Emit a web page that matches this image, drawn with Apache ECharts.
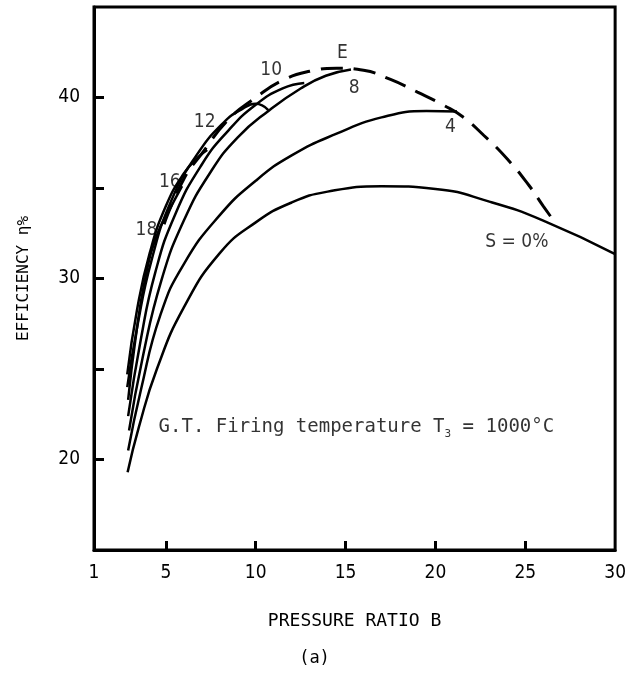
<!DOCTYPE html>
<html>
<head>
<meta charset="utf-8">
<script src="https://cdn.jsdelivr.net/npm/echarts@6/dist/echarts.min.js"></script>
<style>
html,body{margin:0;padding:0;background:#fff;}
#c{width:629px;height:681px;}
</style>
</head>
<body>
<div id="c"></div>
<script>
// ---- data ----
const xLabelValues = [1, 5, 10, 15, 20, 25, 30];
const xTickValues = [5, 10, 15, 20, 25];
const yLabelValues = [20, 30, 40];
const yTickValues = [20, 25, 30, 35, 40];

const curveS0 = [[2.87,19.3],[3.5,21.8],[4.5,25.0],[6,28.4],[8,31.4],[10,33.1],[12,34.2],[14,34.8],[17,35.1],[20,34.95],[23,34.25],[26,33.2],[30,31.35]];
const curveS4 = [[2.9,20.5],[3.6,23.8],[4.7,28.0],[6,30.8],[8,33.5],[10,35.4],[12,36.8],[14.5,38.0],[17,38.9],[19.5,39.25],[21.2,39.22]];
const curveS8 = [[2.95,21.6],[3.7,25.6],[4.75,29.9],[6,33.2],[7.5,35.9],[9,37.8],[10.76,39.3],[12.5,40.5],[13.9,41.2],[15.3,41.55]];
const curveS10 = [[2.9,22.4],[3.6,26.6],[4.4,30.3],[5.5,33.5],[7,36.3],[8.5,38.2],[10,39.6],[11.5,40.5],[12.7,40.8]];
const curveS12 = [[2.85,24.0],[3.4,27.3],[4.2,31.0],[5.3,34.3],[6.7,36.8],[8.2,38.6],[9.3,39.4],[10.0,39.65],[10.7,39.3]];
const curveS16 = [[2.85,24.7],[3.4,28.3],[4.1,31.4],[5.0,34.0],[6.0,35.8],[6.8,36.7],[7.3,37.1]];
const curveS18 = [[2.9,23.3],[3.3,26.6],[3.85,30.0],[4.5,32.4],[5.2,33.8],[5.9,35.1]];
const envelopeE = [[4.9,33.0],[6,35.5],[7,36.9],[8.5,38.8],[10,40.0],[11.5,40.95],[13,41.45],[14.5,41.62],[16,41.5],[17.5,41.0],[19,40.3],[20.5,39.55],[21.5,38.95],[22.7,37.9],[24,36.6],[25.2,35.15],[26,34.0],[26.75,32.96]];

const curveLabels = [
  ['E', 14.83, 42.44],
  ['10', 10.86, 41.52],
  ['8', 15.48, 40.51],
  ['12', 7.16, 38.66],
  ['16', 5.22, 35.35],
  ['18', 3.92, 32.68],
  ['4', 20.84, 38.39],
  ['S = 0%', 24.53, 32.03]
];
const noteText = ['G.T. Firing temperature T', '3', ' = 1000°C'];
const notePos = [15.6, 21.8];

// ---- chart ----
const chart = echarts.init(document.getElementById('c'), null, {renderer: 'canvas'});
const sansNarrow = '"DejaVu Sans Condensed","Liberation Sans Narrow","Liberation Sans",sans-serif';
const mono = '"DejaVu Sans Mono","Liberation Mono",monospace';

function curve(data, dashed) {
  return {
    type: 'line', data: data, symbol: 'none', smooth: 0.5,
    lineStyle: {color: '#000', width: dashed ? 3 : 2.5, type: dashed ? [22, 11] : 'solid', cap: 'butt'},
    silent: true, animation: false, z: 3
  };
}

chart.setOption({
  backgroundColor: '#fff',
  animation: false,
  grid: {left: 94, right: 12, top: 7, bottom: 131, show: true, borderColor: '#000', borderWidth: 3, backgroundColor: 'transparent'},
  xAxis: {
    type: 'value', min: 1, max: 30,
    name: 'PRESSURE RATIO B', nameLocation: 'middle', nameGap: 62,
    nameTextStyle: {fontFamily: mono, fontSize: 18, color: '#000'},
    axisLine: {show: true, lineStyle: {color: '#000', width: 3}},
    axisTick: {show: true, inside: true, length: 9, customValues: xTickValues, lineStyle: {color: '#000', width: 3}},
    axisLabel: {show: true, customValues: xLabelValues, margin: 14, fontFamily: sansNarrow, fontSize: 19, color: '#000'},
    splitLine: {show: false}
  },
  yAxis: {
    type: 'value', min: 15, max: 45,
    name: 'EFFICIENCY η%', nameLocation: 'middle', nameGap: 62, nameRotate: 90,
    nameTextStyle: {fontFamily: mono, fontSize: 16, color: '#000'},
    axisLine: {show: true, lineStyle: {color: '#000', width: 3}},
    axisTick: {show: true, inside: true, length: 10, customValues: yTickValues, lineStyle: {color: '#000', width: 3}},
    axisLabel: {show: true, customValues: yLabelValues, margin: 14, fontFamily: sansNarrow, fontSize: 19, color: '#000'},
    splitLine: {show: false}
  },
  series: [
    curve(curveS0), curve(curveS4), curve(curveS8), curve(curveS10),
    curve(curveS12), curve(curveS16), curve(curveS18), curve(envelopeE, true),
    {
      type: 'scatter', symbolSize: 0, silent: true, z: 5,
      data: curveLabels.map(d => ({name: d[0], value: [d[1], d[2]]})),
      label: {show: true, position: 'inside', formatter: p => p.name, fontFamily: sansNarrow, fontSize: 19, color: '#000'}
    },
    {
      type: 'scatter', symbolSize: 0, silent: true, z: 5,
      data: [{value: notePos}],
      label: {
        show: true, position: 'inside',
        formatter: '{a|' + noteText[0] + '}{s|' + noteText[1] + '}{a|' + noteText[2] + '}',
        rich: {
          a: {fontFamily: mono, fontSize: 19, color: '#000', lineHeight: 26},
          s: {fontFamily: mono, fontSize: 11, color: '#000', lineHeight: 10, verticalAlign: 'bottom'}
        }
      }
    }
  ],
  graphic: [{
    type: 'text', left: 'center', top: 650,
    style: {text: '(a)', fontFamily: mono, fontSize: 17, fill: '#000'}
  }]
});
</script>
</body>
</html>
